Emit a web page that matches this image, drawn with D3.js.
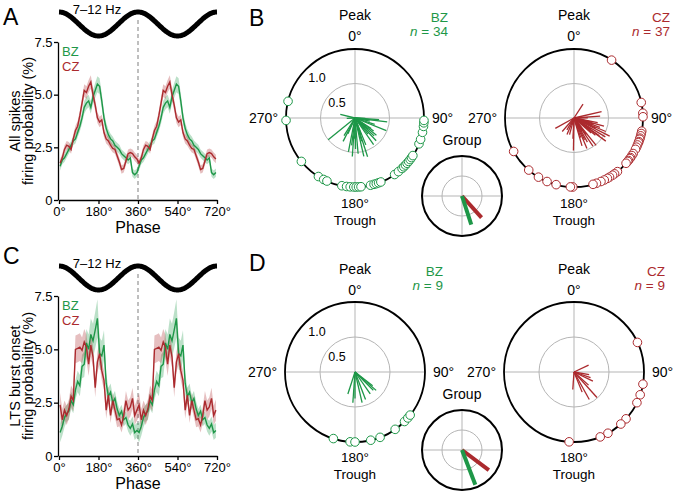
<!DOCTYPE html>
<html><head><meta charset="utf-8">
<script src="https://cdn.jsdelivr.net/npm/d3@7"></script>
<style>body{margin:0;background:#fff}svg{display:block}text{font-family:"Liberation Sans",Arial,sans-serif}</style>
</head><body><svg id="c" width="677" height="495"></svg>
<script>
const GREEN = "#1e9748", RED = "#ab2a2e";
const seriesNames = ["BZ", "CZ"];
const binCenters = d3.range(5, 360, 10); // phase bins of one cycle, shown twice (0–720°)
const xTicks = [0, 180, 360, 540, 720];
const xTickLabels = ["0°", "180°", "360°", "540°", "720°"];
const yTicks = [0, 2.5, 5, 7.5];
const yTickLabels = ["0", "2.5", "5.0", "7.5"];

// Panel A – all spikes (%)
const allBZ = [1.6,1.9,2.0,2.2,2.4,2.6,2.8,2.9,3.2,3.5,3.9,4.4,4.6,4.7,4.4,4.9,5.2,5.5,5.4,4.7,3.9,3.4,3.1,2.9,2.8,2.6,2.5,2.4,2.2,2.1,2.0,1.9,2.0,1.3,1.2,1.3];
const allBZsem = [0.2,0.2,0.2,0.2,0.2,0.2,0.2,0.22,0.22,0.25,0.28,0.3,0.3,0.3,0.3,0.32,0.35,0.38,0.38,0.35,0.3,0.28,0.25,0.25,0.22,0.22,0.22,0.22,0.2,0.2,0.2,0.2,0.2,0.2,0.2,0.2];
const allCZ = [1.75,2.0,2.4,2.6,2.55,2.4,2.9,3.3,3.5,4.0,4.6,5.2,5.1,5.4,5.6,5.0,4.5,3.9,3.7,3.8,3.2,2.9,2.8,2.6,2.45,2.4,2.1,1.8,1.45,1.5,1.85,2.2,2.25,2.2,2.05,1.95];
const allCZsem = [0.18,0.2,0.2,0.2,0.2,0.2,0.22,0.22,0.25,0.25,0.28,0.3,0.3,0.3,0.32,0.3,0.28,0.25,0.25,0.25,0.22,0.22,0.22,0.2,0.2,0.2,0.2,0.2,0.2,0.2,0.2,0.2,0.2,0.2,0.2,0.2];

// Panel C – LTS burst onset (%)
const ltsBZ = [1.1,1.4,1.8,2.0,2.1,2.6,2.4,3.1,3.5,3.3,4.2,4.3,5.3,5.0,5.7,5.4,5.9,6.45,4.8,4.7,5.2,3.4,2.8,3.0,2.5,2.7,2.2,1.9,2.1,1.7,1.8,1.45,1.3,1.5,1.1,1.2];
const ltsBZsem = [0.45,0.45,0.45,0.4,0.4,0.4,0.4,0.45,0.5,0.5,0.55,0.6,0.65,0.7,0.75,0.8,0.85,0.9,0.75,0.7,0.7,0.5,0.4,0.4,0.35,0.35,0.35,0.3,0.3,0.3,0.3,0.3,0.35,0.35,0.35,0.35];
const ltsCZ = [2.4,1.7,2.15,1.9,2.2,2.8,2.6,5.0,5.05,5.1,4.95,5.35,5.1,4.3,5.2,4.65,3.2,4.4,4.8,4.0,3.55,2.15,2.85,1.9,2.6,2.15,1.7,1.75,1.45,1.9,2.6,2.15,2.3,2.7,1.9,2.15];
const ltsCZsem = [0.55,0.5,0.45,0.45,0.45,0.5,0.5,0.65,0.65,0.65,0.6,0.6,0.6,0.55,0.55,0.5,0.45,0.5,0.5,0.45,0.45,0.4,0.4,0.35,0.35,0.35,0.35,0.35,0.35,0.4,0.45,0.45,0.45,0.5,0.45,0.5];

// Panel B – preferred phase (deg) and vector length per neuron
const bBZangle = [284,268,231,212,207,204,191,187,184,181,179,177,175,167,164,162,160,158,145,141,137,135,133,131,129,127,125,123,112,108,102,97,94,92];
const bBZlen = [0.22,0.12,0.5,0.3,0.38,0.25,0.5,0.4,0.56,0.3,0.45,0.2,0.52,0.57,0.35,0.59,0.25,0.42,0.47,0.3,0.45,0.2,0.38,0.25,0.4,0.18,0.33,0.28,0.49,0.3,0.22,0.47,0.35,0.15];
const bCZangle = [33,77,86,89,101,103,105,107,108,110,111,113,115,117,121,123,125,126,128,129,131,141,144,146,149,151,154,157,161,164,181,183,195,203,211,221,241];
const bCZlen = [0.24,0.41,0.38,0.2,0.35,0.25,0.45,0.3,0.2,0.4,0.28,0.5,0.35,0.58,0.53,0.3,0.45,0.57,0.25,0.4,0.33,0.51,0.3,0.49,0.22,0.4,0.35,0.48,0.3,0.42,0.47,0.3,0.25,0.26,0.2,0.26,0.31];
// Panel D
const dBZangle = [198,184,180,167,159,145,135,131,128];
const dBZlen = [0.33,0.44,0.38,0.45,0.42,0.38,0.37,0.4,0.32];
const dCZangle = [65,100,109,116,132,138,151,158,184];
const dCZlen = [0.23,0.22,0.25,0.3,0.28,0.49,0.45,0.31,0.25];
// Group mean vectors [BZ, CZ]
const bGroupAngle = [162, 138], bGroupLen = [0.75, 0.73];
const dGroupAngle = [159, 127], dGroupLen = [0.93, 0.84];

const svg = d3.select("#c");

function letter(x, y, t) {
  svg.append("text").attr("x", x).attr("y", y).attr("font-size", 23).text(t);
}

function linePanel(o) {
  const x = d3.scaleLinear().domain([0, 720]).range([59, 217]);
  const y = d3.scaleLinear().domain([0, 7.5]).range([o.bottom, o.top]);
  const g = svg.append("g");
  // reference oscillation
  const ph = d3.range(0, 721, 4);
  const sy = d3.scaleLinear().domain([-1, 1]).range([o.top - 6, o.top - 30]);
  g.append("path").attr("d", d3.line().x(p => x(p)).y(p => sy(Math.cos(p * Math.PI / 180)))(ph))
    .attr("fill", "none").attr("stroke", "#000").attr("stroke-width", 5);
  g.append("text").attr("x", 97).attr("y", o.top - 28).attr("text-anchor", "middle").attr("font-size", 13).text("7–12 Hz");
  // dashed line at 360
  g.append("line").attr("x1", x(360)).attr("x2", x(360)).attr("y1", o.top - 22).attr("y2", o.bottom)
    .attr("stroke", "#aaa").attr("stroke-width", 1.5).attr("stroke-dasharray", "4,3");
  const colors = [GREEN, RED];
  o.series.forEach((s, i) => {
    const pts = [];
    [0, 360].forEach(off => s.m.forEach((v, j) => pts.push({p: binCenters[j] + off, v, e: s.e[j]})));
    g.append("path").attr("d", d3.area().x(d => x(d.p)).y0(d => y(d.v - d.e)).y1(d => y(d.v + d.e))(pts))
      .attr("fill", colors[i]).attr("opacity", 0.3);
    s.pts = pts;
  });
  o.series.forEach((s, i) => {
    g.append("path").attr("d", d3.line().x(d => x(d.p)).y(d => y(d.v))(s.pts))
      .attr("fill", "none").attr("stroke", colors[i]).attr("stroke-width", 1.4);
  });
  const ax = g.append("g").attr("transform", `translate(0,${o.bottom})`)
    .call(d3.axisBottom(x).tickValues(xTicks).tickFormat((d, i) => xTickLabels[i]).tickSize(4).tickSizeOuter(0));
  const ay = g.append("g").attr("transform", `translate(58,0)`)
    .call(d3.axisLeft(y).tickValues(yTicks).tickFormat((d, i) => yTickLabels[i]).tickSize(4).tickPadding(1.5).tickSizeOuter(0));
  [ax, ay].forEach(a => {
    a.selectAll("text").attr("font-size", 13).attr("fill", "#000").attr("font-family", '"Liberation Sans",Arial,sans-serif');
    a.selectAll("path,line").attr("stroke", "#000").attr("stroke-width", 1.3);
  });
  g.append("text").attr("x", 138).attr("y", o.bottom + 33).attr("text-anchor", "middle").attr("font-size", 16).text("Phase");
  const cyl = (o.top + o.bottom) / 2;
  g.append("text").attr("transform", `translate(20,${cyl}) rotate(-90)`).attr("text-anchor", "middle").attr("font-size", 14.5).text(o.yl1);
  g.append("text").attr("transform", `translate(33,${cyl}) rotate(-90)`).attr("text-anchor", "middle").attr("font-size", 14.5).text(o.yl2);
  seriesNames.forEach((n, i) => g.append("text").attr("x", 62).attr("y", o.top + 14 + i * 14.5).attr("font-size", 13).attr("fill", colors[i]).text(n));
}

letter(3, 25, "A");
linePanel({top: 42, bottom: 200, yl1: "All spikes", yl2: "firing probability (%)",
  series: [{m: allBZ, e: allBZsem}, {m: allCZ, e: allCZsem}]});
letter(3, 264, "C");
linePanel({top: 296, bottom: 456, yl1: "LTS burst onset", yl2: "firing probability (%)",
  series: [{m: ltsBZ, e: ltsBZsem}, {m: ltsCZ, e: ltsCZsem}]});

function polar(cx, cy, R, angles, lens, color, name, n, showScale) {
  const r = d3.scaleLinear().domain([0, 1]).range([0, R]);
  const px = (a, l) => cx + r(l) * Math.sin(a * Math.PI / 180);
  const py = (a, l) => cy - r(l) * Math.cos(a * Math.PI / 180);
  const g = svg.append("g");
  g.append("line").attr("x1", cx - R).attr("x2", cx + R).attr("y1", cy).attr("y2", cy).attr("stroke", "#b5b5b5");
  g.append("line").attr("x1", cx).attr("x2", cx).attr("y1", cy - R).attr("y2", cy + R).attr("stroke", "#b5b5b5");
  g.append("circle").attr("cx", cx).attr("cy", cy).attr("r", r(0.5)).attr("fill", "none").attr("stroke", "#b5b5b5");
  g.append("circle").attr("cx", cx).attr("cy", cy).attr("r", r(1)).attr("fill", "none").attr("stroke", "#000").attr("stroke-width", 1.8);
  angles.forEach((a, i) => g.append("line").attr("x1", cx).attr("y1", cy).attr("x2", px(a, lens[i])).attr("y2", py(a, lens[i]))
    .attr("stroke", color).attr("stroke-width", 1.3));
  angles.forEach(a => g.append("circle").attr("cx", px(a, 1)).attr("cy", py(a, 1)).attr("r", 4.3)
    .attr("fill", "#fff").attr("stroke", color).attr("stroke-width", 1));
  const t = (x, y, txt, anchor, fs) => g.append("text").attr("x", x).attr("y", y).attr("text-anchor", anchor || "middle").attr("font-size", fs || 14).text(txt);
  t(cx, cy - 98, "Peak"); t(cx, cy - 77, "0°");
  t(cx, cy + 90, "180°", "middle", 13.5); t(cx, cy + 107, "Trough", "middle", 13.5);
  t(cx + R + 8, cy + 5, "90°", "start"); t(cx - R - 8, cy + 5, "270°", "end");
  if (showScale) {
    t(cx - 38, cy - 36, "1.0", "middle", 12.5);
    t(cx - 18, cy - 11, "0.5", "middle", 12.5);
  }
  g.append("text").attr("x", n.x).attr("y", cy - 96).attr("text-anchor", "end").attr("font-size", 13.5).attr("fill", color).text(name);
  const nt = g.append("text").attr("x", n.x).attr("y", cy - 82).attr("text-anchor", "end").attr("font-size", 13.5).attr("fill", color);
  nt.append("tspan").attr("font-style", "italic").text("n");
  nt.append("tspan").text(" = " + n.v);
}

function group(cx, cy, R, angles, lens) {
  const r = d3.scaleLinear().domain([0, 1]).range([0, R]);
  const g = svg.append("g");
  g.append("line").attr("x1", cx - R).attr("x2", cx + R).attr("y1", cy).attr("y2", cy).attr("stroke", "#b5b5b5");
  g.append("line").attr("x1", cx).attr("x2", cx).attr("y1", cy - R).attr("y2", cy + R).attr("stroke", "#b5b5b5");
  g.append("circle").attr("cx", cx).attr("cy", cy).attr("r", r(0.5)).attr("fill", "none").attr("stroke", "#b5b5b5");
  g.append("circle").attr("cx", cx).attr("cy", cy).attr("r", r(1)).attr("fill", "none").attr("stroke", "#000").attr("stroke-width", 2);
  const cols = [GREEN, RED];
  [1, 0].forEach(i => g.append("line").attr("x1", cx).attr("y1", cy)
    .attr("x2", cx + r(lens[i]) * Math.sin(angles[i] * Math.PI / 180))
    .attr("y2", cy - r(lens[i]) * Math.cos(angles[i] * Math.PI / 180))
    .attr("stroke", cols[i]).attr("stroke-width", 4));
  g.append("text").attr("x", cx).attr("y", cy - 51).attr("text-anchor", "middle").attr("font-size", 14).text("Group");
}

letter(249, 26, "B");
polar(355, 118, 69, bBZangle, bBZlen, GREEN, "BZ", {x: 448, v: 34}, true);
polar(574, 118, 69, bCZangle, bCZlen, RED, "CZ", {x: 670, v: 37}, false);
group(462, 196, 40, bGroupAngle, bGroupLen);

letter(249, 271, "D");
polar(355, 372, 70, dBZangle, dBZlen, GREEN, "BZ", {x: 443, v: 9}, true);
polar(574, 372, 70, dCZangle, dCZlen, RED, "CZ", {x: 665, v: 9}, false);
group(462, 450, 40, dGroupAngle, dGroupLen);
</script></body></html>
